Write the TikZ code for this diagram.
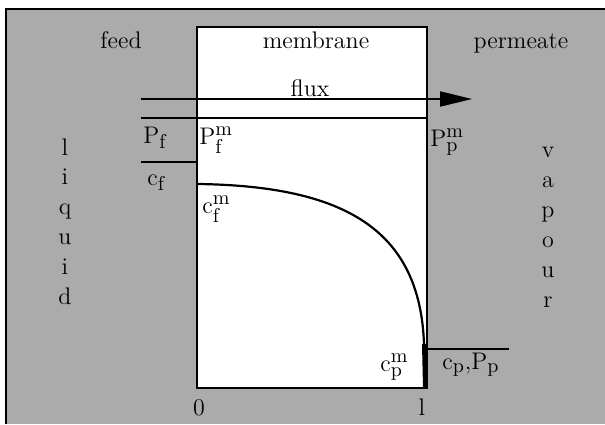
\documentclass[tikz,border=0pt]{standalone}
\usepackage{amsmath}
\usepackage{tikz}
\usetikzlibrary{arrows.meta, positioning, calc}
\DeclareMathSizes{12}{12}{10}{8}

\begin{document}
\begin{tikzpicture}[
    x=0.5pt, y=-0.5pt,
    every node/.style={font=\fontsize{12}{14}\selectfont, inner sep=0pt},
    txt/.style={anchor=base},
    sym/.style={anchor=base west},
    region/.style={fill=black!33},
    wall/.style={draw=black, line width=1pt},
    level/.style={line width=1pt},
    flow/.style={-{Triangle[length=16pt, width=7.5pt]}, line width=1pt},
    profile/.style={line width=1.1pt}
]
\useasboundingbox (0,0) rectangle (605,424);

% Phases and membrane
\coordinate (frame) at (6,9);
\coordinate (mtl) at (197,27);
\coordinate (mbr) at (427,388);
\fill[region] (frame) rectangle (605,424);
\draw[wall] (6,424) -- (frame) -- (605,9);
\draw[wall, fill=white] (mtl) rectangle (mbr);

% Flux and levels
\coordinate (fluxin) at (141,99);
\coordinate (fluxout) at (472,99);
\draw[flow] (fluxin) -- (fluxout);
\coordinate (pin) at (141,118);
\coordinate (pout) at (427,118);
\draw[level] (pin) -- (pout);
\coordinate (cin) at (141,162);
\coordinate (cout) at (197,162);
\draw[level] (cin) -- (cout);
\coordinate (cpin) at (427,349);
\coordinate (cpout) at (509,349);
\draw[level] (cpin) -- (cpout);

% Concentration profile
\coordinate (cfm0) at (198,184);
\coordinate (cpm0) at (424,344);
\coordinate (mbot) at (425,388);
\draw[profile] (cfm0) .. controls (345,186) and (420,230) .. (cpm0);
\draw[line width=2pt] (cpm0) -- (mbot);

% Labels
\node[txt] (feed) at (121,48) {feed};
\node[txt] (membrane) at (316,48) {membrane};
\node[txt] (permeate) at (521,48) {permeate};
\node[txt] (flux) at (310,96) {flux};
\node[sym] (Pf) at (143,143) {$\mathrm{P}_{\mathrm{f}}$};
\node[sym] (Pfm) at (199,144) {$\mathrm{P}_{\mathrm{f}}^{\mathrm{m}}$};
\node[sym] (cf) at (147,185) {$\mathrm{c}_{\mathrm{f}}$};
\node[sym] (cfm) at (202,213) {$\mathrm{c}_{\mathrm{f}}^{\mathrm{m}}$};
\node[sym] (Ppm) at (430,146) {$\mathrm{P}_{\mathrm{p}}^{\mathrm{m}}$};
\node[sym] (cpm) at (380,371) {$\mathrm{c}_{\mathrm{p}}^{\mathrm{m}}$};
\node[sym] (cpPp) at (442,369) {$\mathrm{c}_{\mathrm{p}},\!\mathrm{P}_{\mathrm{p}}$};
\node[txt] (zero) at (199,415) {0};
\node[txt] (ell) at (422,415) {l};

% Phase names
\foreach \ch [count=\i] in {l,i,q,u,i,d}
    \node[txt] (liq\i) at (65,{155+29.8*(\i-1)}) {\ch};
\foreach \ch [count=\i] in {v,a,p,o,u,r}
    \node[txt] (vap\i) at (548,{157+30*(\i-1)}) {\ch};

\end{tikzpicture}
\end{document}
